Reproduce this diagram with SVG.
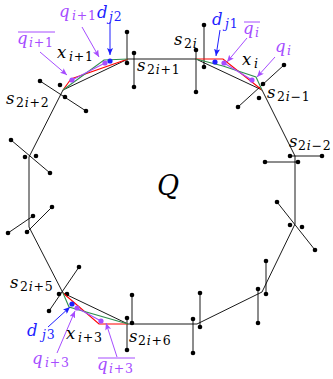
<svg xmlns="http://www.w3.org/2000/svg" width="333" height="379" viewBox="0 0 333 379">
<style>
.ln{stroke:#000;stroke-width:0.9;fill:none}
.dot{fill:#000}
.red{stroke:#ff0000;stroke-width:1.1;fill:none}
.grn{stroke:#2f8f4f;stroke-width:1.1;fill:none}
.pl{stroke:#a64dff;stroke-width:1.1;fill:none}
.pd{fill:#a64dff}
.bd{fill:#1f1fff}
text{font-family:"DejaVu Serif","Liberation Serif",serif}
.m{font-style:italic;font-size:16.5px}
.s{font-size:12.5px;letter-spacing:0.8px}
.it{font-style:italic}
.pt{fill:#a64dff}
.bt{fill:#1f1fff}
.kt{fill:#000}
.pa{stroke:#a64dff;stroke-width:1;fill:none;marker-end:url(#ap)}
.ba{stroke:#1f1fff;stroke-width:1;fill:none;marker-end:url(#ab)}
</style>
<defs>
<marker id="ap" markerUnits="userSpaceOnUse" markerWidth="8" markerHeight="6" refX="7" refY="3" orient="auto"><path d="M0,0 L7,3 L0,6 L1.5,3 z" fill="#a64dff"/></marker>
<marker id="ab" markerUnits="userSpaceOnUse" markerWidth="8" markerHeight="6" refX="7" refY="3" orient="auto"><path d="M0,0 L7,3 L0,6 L1.5,3 z" fill="#1f1fff"/></marker>
</defs>

<g id="polygon-Q">
<polygon class="ln" points="128,59 196,59 262,90 295,156 295,224 262,292 197,324 128,324 63,293 29,227 29,157 63,90"/>
</g>

<g id="segments">
<g id="seg-s2i+2"><line class="ln" x1="40" y1="81" x2="86" y2="111"/><circle class="dot" cx="40" cy="81" r="2.3"/><circle class="dot" cx="86" cy="111" r="2.3"/><circle class="dot" cx="60" cy="85" r="2.3"/><circle class="dot" cx="65" cy="97" r="2.3"/></g>
<g id="seg-s2i+1"><line class="ln" x1="127" y1="32" x2="127" y2="63"/><circle class="dot" cx="127" cy="32" r="2.3"/><circle class="dot" cx="127" cy="63" r="2.3"/><line class="ln" x1="134" y1="53" x2="134" y2="87"/><circle class="dot" cx="134" cy="53" r="2.3"/><circle class="dot" cx="134" cy="87" r="2.3"/></g>
<g id="seg-s2i"><line class="ln" x1="204" y1="25" x2="204" y2="67"/><circle class="dot" cx="204" cy="25" r="2.3"/><circle class="dot" cx="204" cy="67" r="2.3"/><line class="ln" x1="196" y1="50" x2="196" y2="92"/><circle class="dot" cx="196" cy="50" r="2.3"/><circle class="dot" cx="196" cy="92" r="2.3"/></g>
<g id="seg-s2i-1"><line class="ln" x1="238" y1="107" x2="284" y2="65"/><circle class="dot" cx="238" cy="107" r="2.3"/><circle class="dot" cx="284" cy="65" r="2.3"/><circle class="dot" cx="263" cy="84" r="2.3"/><circle class="dot" cx="259" cy="98" r="2.3"/></g>
<g id="seg-s2i-2"><line class="ln" x1="265" y1="162" x2="298" y2="162"/><circle class="dot" cx="265" cy="162" r="2.3"/><circle class="dot" cx="298" cy="162" r="2.3"/><line class="ln" x1="290" y1="156" x2="322" y2="156"/><circle class="dot" cx="290" cy="156" r="2.3"/><circle class="dot" cx="322" cy="156" r="2.3"/></g>
<g id="seg-right-low"><line class="ln" x1="277" y1="202" x2="315" y2="250"/><circle class="dot" cx="277" cy="202" r="2.3"/><circle class="dot" cx="315" cy="250" r="2.3"/><circle class="dot" cx="290" cy="225" r="2.3"/><circle class="dot" cx="302" cy="227" r="2.3"/></g>
<g id="seg-bottom-right"><line class="ln" x1="266" y1="261" x2="266" y2="294"/><circle class="dot" cx="266" cy="261" r="2.3"/><circle class="dot" cx="266" cy="294" r="2.3"/><line class="ln" x1="258" y1="289" x2="258" y2="323"/><circle class="dot" cx="258" cy="289" r="2.3"/><circle class="dot" cx="258" cy="323" r="2.3"/></g>
<g id="seg-bottom"><line class="ln" x1="200" y1="293" x2="200" y2="327"/><circle class="dot" cx="200" cy="293" r="2.3"/><circle class="dot" cx="200" cy="327" r="2.3"/><line class="ln" x1="193" y1="319" x2="193" y2="353"/><circle class="dot" cx="193" cy="319" r="2.3"/><circle class="dot" cx="193" cy="353" r="2.3"/></g>
<g id="seg-s2i+6"><line class="ln" x1="132" y1="295" x2="132" y2="323"/><circle class="dot" cx="132" cy="295" r="2.3"/><circle class="dot" cx="132" cy="323" r="2.3"/><line class="ln" x1="127" y1="318" x2="127" y2="350"/><circle class="dot" cx="127" cy="318" r="2.3"/><circle class="dot" cx="127" cy="350" r="2.3"/></g>
<g id="seg-s2i+5"><line class="ln" x1="79" y1="267" x2="49" y2="311"/><circle class="dot" cx="79" cy="267" r="2.3"/><circle class="dot" cx="49" cy="311" r="2.3"/><circle class="dot" cx="59" cy="294" r="2.3"/><circle class="dot" cx="67" cy="294" r="2.3"/></g>
<g id="seg-left-low"><line class="ln" x1="52" y1="207" x2="27" y2="232"/><circle class="dot" cx="52" cy="207" r="2.3"/><circle class="dot" cx="27" cy="232" r="2.3"/><line class="ln" x1="33" y1="216" x2="8" y2="233"/><circle class="dot" cx="33" cy="216" r="2.3"/><circle class="dot" cx="8" cy="233" r="2.3"/></g>
<g id="seg-left-up"><line class="ln" x1="11" y1="140" x2="50" y2="173"/><circle class="dot" cx="11" cy="140" r="2.3"/><circle class="dot" cx="50" cy="173" r="2.3"/><circle class="dot" cx="25" cy="157" r="2.3"/><circle class="dot" cx="36" cy="156" r="2.3"/></g>
</g>

<g id="cluster-top-left">
<polyline class="red" points="63,90 71,79 128,59"/>
<polyline class="grn" points="63,90 104,60 128,59"/>
<line class="pl" x1="72" y1="80" x2="105" y2="63"/>
<circle class="pd" cx="72" cy="80" r="2.6"/><circle class="pd" cx="105" cy="63" r="2.6"/>
<circle class="bd" cx="110" cy="61" r="2.6"/>
</g>
<g id="cluster-top-right">
<polyline class="red" points="196,59 223,59 262,90"/>
<polyline class="grn" points="196,59 223,66 256,77 262,90"/>
<line class="pl" x1="224" y1="63" x2="252" y2="80"/>
<circle class="pd" cx="224" cy="63" r="2.6"/><circle class="pd" cx="252" cy="80" r="2.6"/>
<circle class="bd" cx="215" cy="62" r="2.6"/>
</g>
<g id="cluster-bottom">
<polyline class="red" points="63,293 99,324 128,324"/>
<polyline class="grn" points="63,293 69,307 128,324"/>
<line class="pl" x1="77" y1="308" x2="101" y2="321"/>
<circle class="pd" cx="77" cy="308" r="2.6"/><circle class="pd" cx="101" cy="321" r="2.6"/>
<circle class="bd" cx="72" cy="304" r="2.6"/>
</g>

<g id="connectors">
<line class="pa" x1="40" y1="52" x2="67" y2="75"/>
<line class="pa" x1="82" y1="27" x2="99" y2="57"/>
<line class="ba" x1="110" y1="22" x2="110" y2="55"/>
<line class="ba" x1="220" y1="30" x2="216" y2="56"/>
<line class="pa" x1="247" y1="38" x2="227" y2="62"/>
<line class="pa" x1="275" y1="57" x2="257" y2="77"/>
<line class="ba" x1="48" y1="327" x2="70" y2="307"/>
<line class="pa" x1="57" y1="353" x2="75" y2="311"/>
<line class="pa" x1="117" y1="357" x2="106" y2="323"/>
</g>

<g id="labels">
<g id="lbl-Q"><text class="m kt" x="157" y="195" style="font-size:27px">Q</text></g>
<g id="lbl-s2i+2"><text class="m kt" x="6" y="104">s</text><text class="s kt" x="16" y="107">2<tspan class="it">i</tspan>+2</text></g>
<g id="lbl-x_i+1"><text class="m kt" x="57" y="58">x</text><text class="s kt" x="69" y="61"><tspan class="it">i</tspan>+1</text></g>
<g id="lbl-q_i+1"><text class="m pt" x="59" y="17">q</text><text class="s pt" x="72" y="20"><tspan class="it">i</tspan>+1</text></g>
<g id="lbl-d_j2"><text class="m bt" x="97" y="18">d</text><text class="s bt" x="109" y="21"><tspan class="it">j</tspan>2</text></g>
<g id="lbl-qbar_i+1"><line x1="18" y1="32" x2="55" y2="32" stroke="#a64dff" stroke-width="1"/><text class="m pt" x="17" y="44">q</text><text class="s pt" x="29" y="47"><tspan class="it">i</tspan>+1</text></g>
<g id="lbl-s2i+1"><text class="m kt" x="137" y="71">s</text><text class="s kt" x="147" y="74">2<tspan class="it">i</tspan>+1</text></g>
<g id="lbl-s2i"><text class="m kt" x="174" y="45">s</text><text class="s kt" x="184" y="48">2<tspan class="it">i</tspan></text></g>
<g id="lbl-d_j1"><text class="m bt" x="212" y="25">d</text><text class="s bt" x="225" y="28"><tspan class="it">j</tspan>1</text></g>
<g id="lbl-qbar_i"><line x1="244" y1="22" x2="260" y2="22" stroke="#a64dff" stroke-width="1"/><text class="m pt" x="243" y="34">q</text><text class="s pt it" x="255" y="37">i</text></g>
<g id="lbl-x_i"><text class="m kt" x="242" y="65">x</text><text class="s kt it" x="254" y="68">i</text></g>
<g id="lbl-q_i"><text class="m pt" x="275" y="52">q</text><text class="s pt it" x="287" y="55">i</text></g>
<g id="lbl-s2i-1"><text class="m kt" x="267" y="98">s</text><text class="s kt" x="277" y="101">2<tspan class="it">i</tspan>−1</text></g>
<g id="lbl-s2i-2"><text class="m kt" x="289" y="147">s</text><text class="s kt" x="298" y="150">2<tspan class="it">i</tspan>−2</text></g>
<g id="lbl-s2i+5"><text class="m kt" x="10" y="288">s</text><text class="s kt" x="20" y="291">2<tspan class="it">i</tspan>+5</text></g>
<g id="lbl-d_j3"><text class="m bt" x="27" y="336">d</text><text class="s bt" x="42" y="339"><tspan class="it">j</tspan>3</text></g>
<g id="lbl-x_i+3"><text class="m kt" x="66" y="339">x</text><text class="s kt" x="78" y="342"><tspan class="it">i</tspan>+3</text></g>
<g id="lbl-q_i+3"><text class="m pt" x="32" y="364">q</text><text class="s pt" x="45" y="367"><tspan class="it">i</tspan>+3</text></g>
<g id="lbl-qbar_i+3"><line x1="98" y1="358" x2="135" y2="358" stroke="#a64dff" stroke-width="1"/><text class="m pt" x="97" y="370">q</text><text class="s pt" x="109" y="373"><tspan class="it">i</tspan>+3</text></g>
<g id="lbl-s2i+6"><text class="m kt" x="129" y="342">s</text><text class="s kt" x="138" y="345">2<tspan class="it">i</tspan>+6</text></g>
</g>
</svg>
